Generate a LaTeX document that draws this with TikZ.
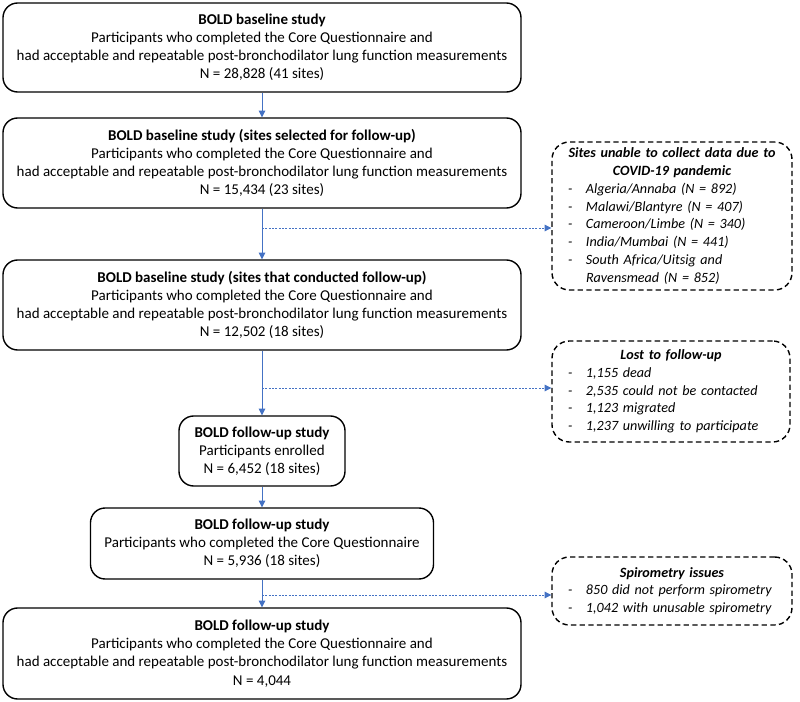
\documentclass[tikz,border=0pt]{standalone}
\usepackage{fontspec}
\setmainfont{Carlito}
\usetikzlibrary{arrows.meta}
\definecolor{arrowblue}{HTML}{4472C4}
\newcommand\dashitem{\makebox[25.5pt][l]{\hspace{12pt}-}}
\begin{document}
\begin{tikzpicture}[x=0.75pt,y=-0.75pt,
  mainbox/.style={draw=black, line width=1.05pt, rounded corners=11pt, align=center, inner sep=0pt, font=\fontsize{11.25}{13.6}\selectfont},
  sidebox/.style={draw=black, line width=1.05pt, dash pattern=on 4pt off 2.5pt, rounded corners=13pt, align=left, inner sep=0pt, font=\fontsize{10.6}{13.3}\selectfont\itshape},
  flow/.style={draw=arrowblue, line width=0.6pt, -{Triangle[width=5pt,length=5pt]}},
  sideflow/.style={flow, dash pattern=on 1.5pt off 1pt}]
\useasboundingbox (0,0) rectangle (800,702);

\node[mainbox, minimum width=388.5pt, minimum height=66.75pt] (b1) at (262,47.5)
  {\textbf{BOLD baseline study}\\Participants who completed the Core Questionnaire and\\had acceptable and repeatable post-bronchodilator lung function measurements\\N = 28,828 (41 sites)};
\node[mainbox, minimum width=388.5pt, minimum height=67.5pt] (b2) at (262,163)
  {\textbf{BOLD baseline study (sites selected for follow-up)}\\Participants who completed the Core Questionnaire and\\had acceptable and repeatable post-bronchodilator lung function measurements\\N = 15,434 (23 sites)};
\node[mainbox, minimum width=388.5pt, minimum height=67.5pt] (b3) at (262,305)
  {\textbf{BOLD baseline study (sites that conducted follow-up)}\\Participants who completed the Core Questionnaire and\\had acceptable and repeatable post-bronchodilator lung function measurements\\N = 12,502 (18 sites)};
\node[mainbox, minimum width=124.5pt, minimum height=52.5pt] (b4) at (262,451)
  {\textbf{BOLD follow-up study}\\Participants enrolled\\N = 6,452 (18 sites)};
\node[mainbox, minimum width=257.25pt, minimum height=53.25pt] (b5) at (262,543.5)
  {\textbf{BOLD follow-up study}\\Participants who completed the Core Questionnaire\\N = 5,936 (18 sites)};
\node[mainbox, minimum width=388.5pt, minimum height=68.25pt] (b6) at (262,653.5)
  {\textbf{BOLD follow-up study}\\Participants who completed the Core Questionnaire and\\had acceptable and repeatable post-bronchodilator lung function measurements\\N = 4,044};

\node[sidebox, text width=180pt, minimum height=111pt] (s1) at (672,216)
  {{\centering\bfseries Sites unable to collect data due to\\COVID-19 pandemic\par}
   \dashitem Algeria/Annaba (N = 892)\\
   \dashitem Malawi/Blantyre (N = 407)\\
   \dashitem Cameroon/Limbe (N = 340)\\
   \dashitem India/Mumbai (N = 441)\\
   \dashitem South Africa/Uitsig and\\
   \hspace*{25.5pt}Ravensmead (N = 852)};
\node[sidebox, text width=178.5pt, minimum height=75.75pt] (s2) at (671,391.5)
  {{\centering\bfseries Lost to follow-up\par}
   \dashitem 1,155 dead\\
   \dashitem 2,535 could not be contacted\\
   \dashitem 1,123 migrated\\
   \dashitem 1,237 unwilling to participate};
\node[sidebox, text width=180pt, minimum height=51pt] (s3) at (672,591)
  {{\centering\bfseries Spirometry issues\par}
   \dashitem 850 did not perform spirometry\\
   \dashitem 1,042 with unusable spirometry};

\draw[flow] (b1.south) -- (b2.north);
\draw[flow] (b2.south) -- (b3.north);
\draw[flow] (b3.south) -- (b4.north);
\draw[flow] (b4.south) -- (b5.north);
\draw[flow] (b5.south) -- (b6.north);

\coordinate (j1) at (262,228);
\coordinate (j2) at (262,388);
\coordinate (j3) at (262,595);
\draw[sideflow] (j1) -- (j1 -| s1.west);
\draw[sideflow] (j2) -- (j2 -| s2.west);
\draw[sideflow] (j3) -- (j3 -| s3.west);
\end{tikzpicture}
\end{document}
